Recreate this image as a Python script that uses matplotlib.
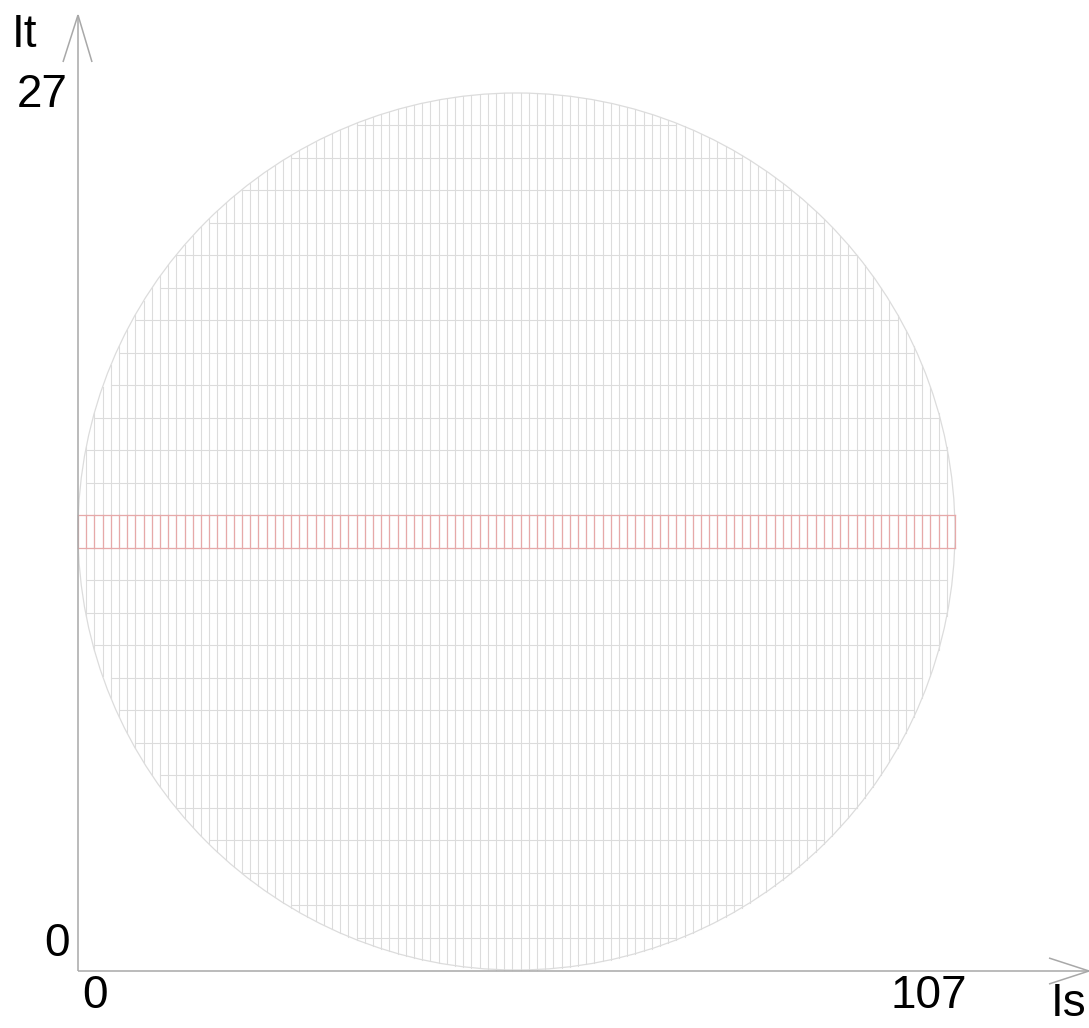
import numpy as np
from matplotlib import pyplot as plt
from matplotlib.patches import Ellipse

plt.rcParams['font.family'] = ['Liberation Sans', 'DejaVu Sans']

# grid of samples
s_max = 107          # last column index (Is)
t_max = 27           # last row index (It)
s_labels = ['0', '107']
t_labels = ['0', '27']
highlight_row = 13   # highlighted row (red band)

grey = '#dcdcdc'
red = '#e6a9a9'
axis_col = '#a8a8a8'

W, H = 1089, 1028
fig = plt.figure(figsize=(W / 100, H / 100), dpi=100)
ax = fig.add_axes([0, 0, 1, 1])

# pixel placement of the data box
x0_px, x1_px = 78, 955
y0_px, y1_px = 970, 93   # from top
sx = (x1_px - x0_px) / s_max
sy = (y0_px - y1_px) / t_max
ax.set_xlim(-x0_px / sx, (W - x0_px) / sx)
ax.set_ylim(-(H - y0_px) / sy, y0_px / sy)
ax.axis('off')

cx, cy = s_max / 2, t_max / 2
rx, ry = s_max / 2, t_max / 2

def half_h(x):
    v = 1 - ((x - cx) / rx) ** 2
    return ry * np.sqrt(max(v, 0))

def half_w(y):
    v = 1 - ((y - cy) / ry) ** 2
    return rx * np.sqrt(max(v, 0))

# vertical grid lines, clipped to the circle
for s in range(s_max + 1):
    h = half_h(s)
    if h > 0:
        ax.plot([s, s], [cy - h, cy + h], color=grey, lw=0.8, zorder=1)

# horizontal grid lines between the outermost columns inside
for t in range(t_max + 1):
    w = half_w(t)
    a, b = np.ceil(cx - w), np.floor(cx + w)
    if b > a:
        ax.plot([a, b], [t, t], color=grey, lw=0.8, zorder=1)

ax.add_patch(Ellipse((cx, cy), 2 * rx, 2 * ry, fill=False,
                     edgecolor=grey, lw=0.9, zorder=2))

# highlighted row
for s in range(s_max + 1):
    ax.plot([s, s], [highlight_row, highlight_row + 1], color=red, lw=0.9, zorder=3)
ax.plot([0, s_max], [highlight_row, highlight_row], color=red, lw=0.9, zorder=3)
ax.plot([0, s_max], [highlight_row + 1, highlight_row + 1], color=red, lw=0.9, zorder=3)

# axes with open arrow heads (in pixel units)
def px(xp, yp):
    return (xp - x0_px) / sx, (y0_px - yp) / sy

def line_px(p, q):
    a, b = px(*p), px(*q)
    ax.plot([a[0], b[0]], [a[1], b[1]], color=axis_col, lw=1.1,
            zorder=4, clip_on=False, solid_capstyle='butt')

line_px((78, 971), (78, 15))
line_px((78, 15), (63, 62))
line_px((78, 15), (92, 62))
line_px((78, 971), (1089, 971))
line_px((1089, 971), (1049, 958))
line_px((1089, 971), (1049, 984))

fs = 33
def text_px(xp, yp, s, ha='center', va='center'):
    ax.text(*px(xp, yp), s, fontsize=fs, ha=ha, va=va, color='black')

text_px(24, 35, 'It')
text_px(42, 95, t_labels[1])
text_px(57, 944, t_labels[0])
text_px(95, 996, s_labels[0])
text_px(929, 996, s_labels[1])
text_px(1086, 1026, 'Is', ha='right', va='bottom')

fig.savefig('out.png', dpi=100)
